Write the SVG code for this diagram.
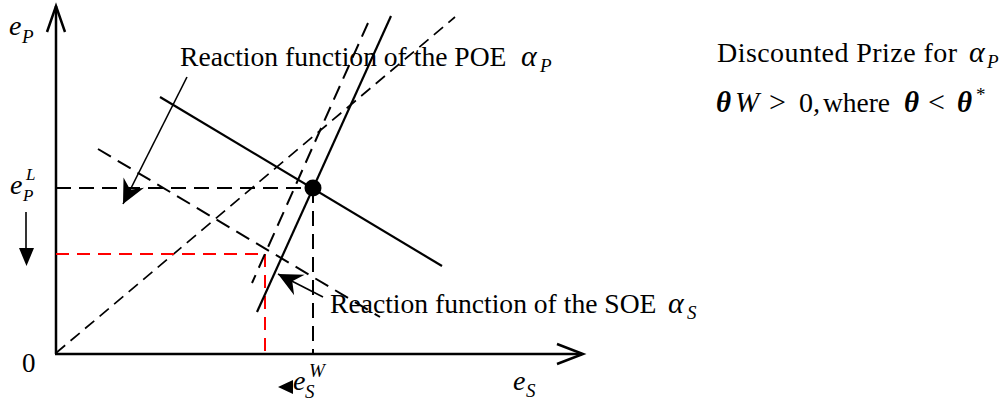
<svg xmlns="http://www.w3.org/2000/svg" width="1005" height="401" viewBox="0 0 1005 401">
<style>
.ax{stroke:#000;stroke-width:2.5;fill:none}
.sol{stroke:#000;stroke-width:2.2;fill:none}
.dsh{stroke:#000;stroke-width:2;fill:none;stroke-dasharray:15 8}
.dsh2{stroke:#000;stroke-width:1.7;fill:none;stroke-dasharray:12 7}
.red{stroke:#f00;stroke-width:2;fill:none;stroke-dasharray:13 8}
.thin{stroke:#000;stroke-width:1.6;fill:none}
.t{font-family:"Liberation Serif",serif;fill:#000}
.m{font-family:"Liberation Serif",serif;font-style:italic;fill:#000}
.b{font-family:"Liberation Serif",serif;font-style:italic;font-weight:bold;fill:#000}
</style>
<defs>
<marker id="ah" viewBox="-26 -13 28 26" markerWidth="28" markerHeight="26" refX="0" refY="0" orient="auto" markerUnits="userSpaceOnUse">
<path d="M0,0 L-24,-11.5 L-16,0 L-24,11.5 Z" fill="#000"/>
</marker>
</defs>
<g id="axes">
<line class="ax" x1="56" y1="354" x2="56" y2="6"/>
<polyline class="ax" points="47,32 56,6 65,32"/>
<line class="ax" x1="55" y1="354" x2="582" y2="354"/>
<polyline class="ax" points="557,344 583,354 557,364"/>
</g>
<g id="connectors">
<line class="dsh2" x1="56" y1="353" x2="455" y2="17"/>
<line class="dsh" x1="56" y1="188" x2="313" y2="188"/>
<line class="dsh" x1="313" y1="188" x2="313" y2="353"/>
<line class="red" x1="56" y1="254" x2="265" y2="254"/>
<line class="red" x1="265" y1="254" x2="265" y2="353"/>
<line class="sol" x1="160" y1="97" x2="442" y2="266"/>
<line class="sol" x1="391" y1="16" x2="257" y2="312"/>
<line class="dsh" x1="98" y1="149" x2="380" y2="317"/>
<line class="dsh" x1="368" y1="23" x2="252" y2="283"/>
<line class="thin" x1="187" y1="77" x2="123" y2="204" marker-end="url(#ah)"/>
<line class="thin" x1="323" y1="297" x2="278" y2="274" marker-end="url(#ah)"/>
<line class="thin" x1="26" y1="212" x2="26" y2="250"/>
<polygon points="19,248 34,248 26.5,266" fill="#000"/>
<polygon points="278,387 293,380 293,394" fill="#000"/>
</g>
<g id="equilibrium">
<circle cx="313" cy="188" r="8.5" fill="#000"/>
</g>
<g id="labels">
<text class="m" x="9" y="35" font-size="28">e</text>
<text class="m" x="22" y="43" font-size="19">P</text>
<text class="m" x="10" y="194" font-size="28">e</text>
<text class="m" x="26" y="180" font-size="17">L</text>
<text class="m" x="23" y="201" font-size="17">P</text>
<text class="t" x="22" y="372" font-size="27">0</text>
<text class="m" x="293" y="390" font-size="28">e</text>
<text class="m" x="305" y="398" font-size="19">S</text>
<text class="m" x="309" y="377" font-size="19">W</text>
<text class="m" x="513" y="390" font-size="28">e</text>
<text class="m" x="526" y="397" font-size="19">S</text>
<text class="t" x="180" y="66" font-size="27.6">Reaction function of the POE</text>
<text class="m" x="521" y="66" font-size="30">α</text>
<text class="m" x="540" y="72" font-size="19">P</text>
<text class="t" x="330" y="313" font-size="27.6">Reaction function of the SOE</text>
<text class="m" x="668" y="313" font-size="30">α</text>
<text class="m" x="687" y="319" font-size="19">S</text>
<text class="t" x="717" y="62" font-size="28" textLength="240" lengthAdjust="spacing">Discounted Prize for</text>
<text class="m" x="969" y="62" font-size="30">α</text>
<text class="m" x="987" y="68" font-size="19">P</text>
<text class="b" x="716" y="112" font-size="29">θ</text>
<text class="m" x="735" y="112" font-size="29">W</text>
<text class="t" x="769" y="112" font-size="30">&gt;</text>
<text class="t" x="799" y="112" font-size="28">0</text>
<text class="m" x="813" y="112" font-size="28">,</text>
<text class="t" x="823" y="112" font-size="27.5" textLength="67" lengthAdjust="spacing">where</text>
<text class="b" x="904" y="112" font-size="29">θ</text>
<text class="t" x="928" y="112" font-size="30">&lt;</text>
<text class="b" x="957" y="112" font-size="29">θ</text>
<text class="t" x="976" y="101" font-size="19">*</text>
</g>
</svg>
